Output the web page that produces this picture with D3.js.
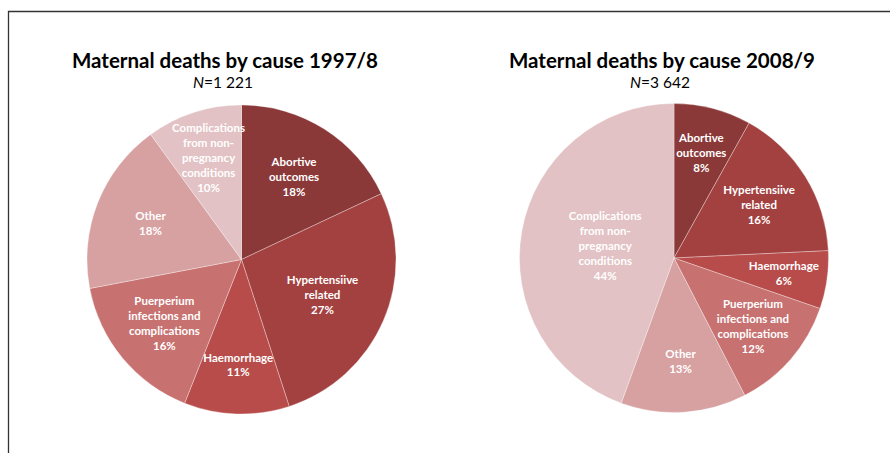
<!DOCTYPE html>
<html>
<head>
<meta charset="utf-8">
<script src="https://cdn.jsdelivr.net/npm/d3@7"></script>
<style>
  body { margin: 0; background: #fff; }
  svg { display: block; font-family: Lato, "Open Sans", sans-serif; }
</style>
</head>
<body>
<div id="chart"></div>
<script>
// Causes, in clockwise order from 12 o'clock
const causes = [
    "Abortive outcomes",
    "Hypertensiive related",
    "Haemorrhage",
    "Puerperium infections and complications",
    "Other",
    "Complications from non-pregnancy conditions"
];
// label lines as they wrap in the original
const causeLines = [
    ["Abortive", "outcomes"],
    ["Hypertensiive", "related"],
    ["Haemorrhage"],
    ["Puerperium", "infections and", "complications"],
    ["Other"],
    ["Complications", "from non-", "pregnancy", "conditions"]
];
const causeColors = ["#8b3838", "#a34141", "#b84c4a", "#c77170", "#d7a1a1", "#e2c2c4"];

const titles = ["Maternal deaths by cause 1997/8", "Maternal deaths by cause 2008/9"];
const totals = ["1 221", "3 642"];
const shares1997 = [18, 27, 11, 16, 18, 10];
const shares2008 = [8, 16, 6, 12, 13, 44];

const width = 890, height = 453;
const radius = 154.5;

const svg = d3.select("#chart").append("svg")
    .attr("width", width)
    .attr("height", height);

// frame (top + left edges only are visible)
svg.append("path")
    .attr("d", `M8.5,${height} V11.5 H${width}`)
    .attr("fill", "none")
    .attr("stroke", "#333")
    .attr("stroke-width", 1.3);

const color = d3.scaleOrdinal().domain(causes).range(causeColors);

const pie = d3.pie().sort(null).value(d => d.value);
const arc = d3.arc().innerRadius(0).outerRadius(radius);

const panels = [
    { title: titles[0], total: totals[0], shares: shares1997, cx: 241.5, cy: 259.5, tx: 225 },
    { title: titles[1], total: totals[1], shares: shares2008, cx: 674, cy: 258, tx: 662 }
];

panels.forEach(p => {
    const data = causes.map((c, i) => ({ cause: c, lines: causeLines[i], value: p.shares[i] }));

    svg.append("text")
        .attr("x", p.tx)
        .attr("y", 68)
        .attr("text-anchor", "middle")
        .style("font-size", "20.5px")
        .style("font-weight", "bold")
        .attr("fill", "#000")
        .text(p.title);

    const sub = svg.append("text")
        .attr("x", p.tx - 2)
        .attr("y", 87.5)
        .attr("text-anchor", "middle")
        .style("font-size", "15.5px")
        .attr("fill", "#000");
    sub.append("tspan").style("font-style", "italic").text("N");
    sub.append("tspan").text("=" + p.total);

    const g = svg.append("g")
        .attr("transform", `translate(${p.cx},${p.cy})`);

    const arcs = pie(data);

    g.selectAll("path")
        .data(arcs)
        .join("path")
        .attr("d", arc)
        .attr("fill", d => color(d.data.cause))
        .attr("stroke", "rgba(255,255,255,0.45)")
        .attr("stroke-width", 0.7);

    // big slices get their label pulled toward the centre
    const labelR = d => radius * (0.76 - d.data.value * 0.007);
    const lineH = 15;

    const labels = g.selectAll("text.lbl")
        .data(arcs)
        .join("text")
        .attr("class", "lbl")
        .attr("text-anchor", "middle")
        .attr("fill", "#fff")
        .style("font-size", "11.5px")
        .style("font-weight", "bold")
        .attr("transform", d => {
            const a = (d.startAngle + d.endAngle) / 2;
            const r = labelR(d);
            return `translate(${Math.sin(a) * r},${-Math.cos(a) * r})`;
        });

    labels.each(function(d) {
        const lines = d.data.lines.concat([d.data.value + "%"]);
        const t = d3.select(this);
        const y0 = -(lines.length - 1) * lineH / 2;
        lines.forEach((ln, i) => {
            t.append("tspan")
                .attr("x", 0)
                .attr("y", y0 + i * lineH)
                .attr("dy", "0.35em")
                .text(ln);
        });
    });
});
</script>
</body>
</html>
